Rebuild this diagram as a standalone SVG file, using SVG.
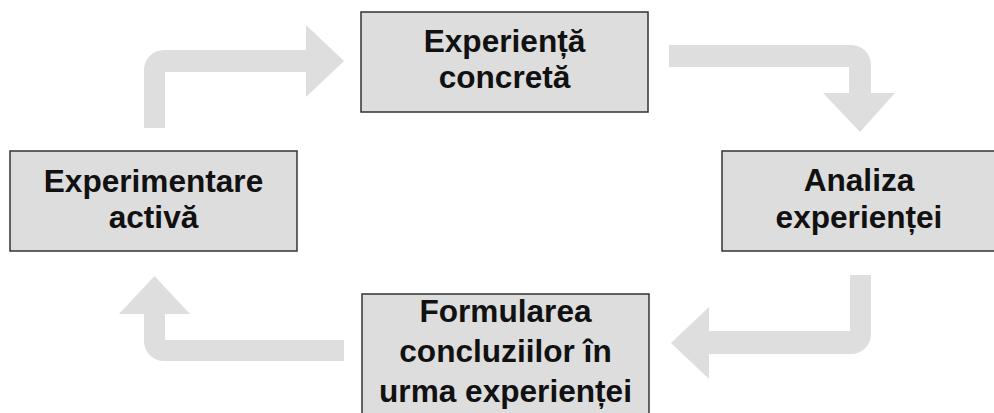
<svg xmlns="http://www.w3.org/2000/svg" width="994" height="413" viewBox="0 0 994 413">
<style>
.box{fill:#dddddd;stroke:#333333;stroke-width:1.5}
.arr{fill:#dedede;stroke:none}
text{font-family:"Liberation Sans",Arial,sans-serif;font-weight:bold;font-size:31.6px;fill:#111111;text-anchor:middle}
</style>
<rect width="994" height="413" fill="#ffffff"/>
<g id="connectors">
<path class="arr" d="M144,128 L144,70 A20,20 0 0 1 164,50 L306,50 L306,25 L344,61 L306,97 L306,72 L165,72 L165,128 Z"/>
<path class="arr" d="M669,45 L851,45 A20,20 0 0 1 871,65 L871,93 L895,93 L860,132 L823,93 L849,93 L849,67 L669,67 Z"/>
<path class="arr" d="M850,275 L871,275 L871,334 A20,20 0 0 1 851,354 L709,354 L709,379 L671,343 L709,307 L709,331 L850,331 Z"/>
<path class="arr" d="M344,340 L344,361 L164,361 A20,20 0 0 1 144,341 L144,314 L119,314 L154.5,276 L190,314 L165,314 L165,340 Z"/>
</g>
<g id="node-concreta">
<rect class="box" x="361" y="12" width="287" height="100"/>
<text x="504.5" y="52">Experiență</text>
<text x="504.5" y="88">concretă</text>
</g>
<g id="node-analiza">
<rect class="box" x="722" y="151" width="274" height="100"/>
<text x="859" y="191">Analiza</text>
<text x="859" y="228">experienței</text>
</g>
<g id="node-formularea">
<rect class="box" x="362" y="294" width="287" height="125"/>
<text x="505.5" y="322">Formularea</text>
<text x="505.5" y="362">concluziilor în</text>
<text x="505.5" y="402">urma experienței</text>
</g>
<g id="node-experimentare">
<rect class="box" x="10" y="151" width="287" height="100"/>
<text x="153.5" y="192">Experimentare</text>
<text x="153.5" y="228">activă</text>
</g>
</svg>
